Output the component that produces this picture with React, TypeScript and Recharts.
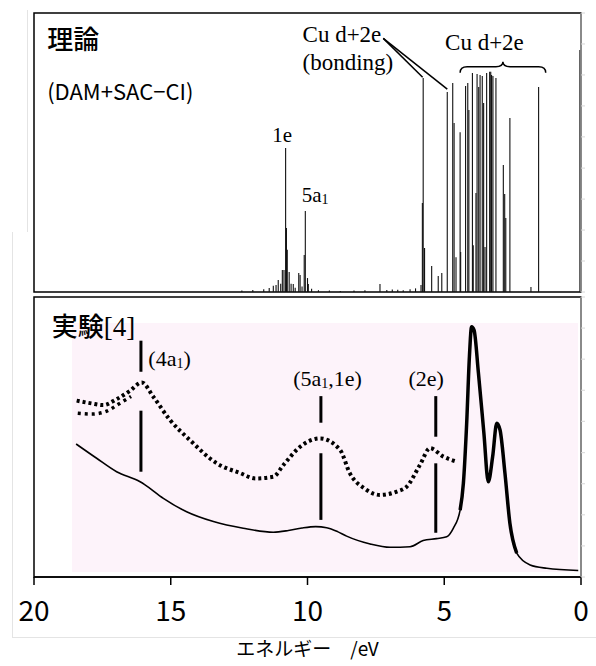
import {
  ComposedChart, Line, XAxis, YAxis, ReferenceLine, ReferenceArea, ReferenceDot, Label,
} from "recharts";

// theory (DAM+SAC-CI): stick energies (eV) and intensities (% of panel height)
const stickE = [
  12.4, 12.0, 11.6, 11.4, 11.25, 11.15, 11.07, 10.98, 10.92, 10.86, 10.8, 10.77, 10.74, 10.67,
  10.6, 10.52, 10.45, 10.32, 10.27, 10.2, 10.12, 10.08, 10.0, 9.97, 9.85, 9.6, 9.2, 8.8, 8.3,
  7.9, 7.35, 7.1, 6.9, 6.7, 6.5, 6.25, 6.05, 5.85, 5.8, 5.77, 5.72, 5.46, 5.22, 5.09, 4.89,
  4.69, 4.64, 4.57, 4.42, 4.4, 4.22, 4.14, 4.1, 3.97, 3.94, 3.84, 3.8, 3.74, 3.69, 3.61, 3.56,
  3.51, 3.45, 3.34, 3.3, 3.27, 3.22, 3.11, 2.84, 2.79, 2.75, 2.6, 1.83, 1.55, 0.04,
];
const stickI = [
  0.5, 0.7, 1.0, 1.4, 2.2, 2.5, 4.3, 3.0, 7.9, 7.9, 51.6, 22.9, 15.1, 7.2,
  3.0, 2.9, 1.5, 6.8, 6.1, 2.0, 13.3, 29.0, 5.0, 2.9, 1.2, 0.6, 0.5, 0.4, 0.5,
  0.6, 2.9, 0.7, 0.9, 0.8, 0.6, 1.0, 1.3, 2.5, 31.9, 76.7, 15.8, 9.3, 5.7, 6.8, 71.7,
  74.9, 60.6, 12.5, 57.3, 14.3, 73.8, 74.9, 65.2, 78.5, 16.8, 35.5, 78.1, 73.5, 77.8, 77.4, 67.7,
  16.1, 78.5, 78.9, 78.9, 77.8, 77.4, 76.7, 45.5, 35.1, 26.5, 62.4, 1.8, 73.5, 86.7,
];

// experiment [4]: solid spectrum
const expE = [
  18.46, 17.71, 16.98, 16.12, 15.94, 15.27, 14.42, 13.44, 12.35, 11.25, 10.7, 10.2, 9.7, 9.3,
  8.9, 8.57, 7.71, 6.98, 6.25, 5.77, 5.28, 4.91, 4.67, 4.42, 4.3, 4.18, 4.08, 4.0, 3.91, 3.75,
  3.55, 3.39, 3.23, 3.08, 2.96, 2.78, 2.6, 2.35, 1.86, 1.25, 0.1,
];
const expI = [
  47.5, 42.4, 37.6, 34.0, 32.9, 28.1, 23.3, 19.8, 17.4, 16.0, 16.6, 17.5, 18.0, 17.6,
  16.2, 14.6, 11.8, 10.6, 10.8, 13.0, 13.7, 14.4, 17.4, 23.9, 33.5, 54.9, 78.7, 89.4, 88.2, 72.8,
  51.3, 34.0, 43.0, 54.9, 52.5, 37.0, 19.2, 8.5, 4.3, 3.1, 2.3,
];

// experiment [4]: dotted (enlarged) spectrum, main row of points
const dotE = [
  18.44, 17.9, 17.47, 16.98, 16.49, 16.06, 15.64, 15.03, 14.3, 13.32, 12.46, 11.9, 11.25,
  10.88, 10.27, 9.54, 8.81, 8.45, 7.9, 7.35, 6.74, 6.37, 5.89, 5.52, 5.03, 4.54,
];
const dotI = [
  63.0, 62.0, 61.4, 63.5, 66.5, 69.5, 64.4, 56.1, 48.9, 40.6, 37.1, 35.2, 35.8,
  40.0, 46.5, 49.5, 45.4, 37.0, 31.5, 29.3, 30.5, 32.3, 40.0, 46.0, 43.0, 41.2,
];
// scattered lower edge of the dotted band (left end)
const dotLowE = [18.4, 17.9, 17.4, 16.9, 16.45];
const dotLowI = [58.5, 58.2, 59.0, 61.8, 64.5];

// assignment markers in the experiment panel
const markE = [16.09, 9.51, 5.31];
const markUpper = [[73.3, 84.4], [55.1, 64.6], [50.1, 64.6]];
const markLower = [[37.6, 59.4], [20.4, 44.2], [15.8, 40.6]];

const xTicks = [20, 15, 10, 5, 0];
const sideTicks = [0, 11.1, 22.2, 33.3, 44.4, 55.6, 66.7, 77.8, 88.9, 100];

const SERIF = "'Liberation Serif', 'Times New Roman', serif";
const GOTHIC = "'Noto Sans CJK JP', 'Noto Sans', sans-serif";

const stickData = stickE.map((e, i) => ({ e, v: stickI[i] }));
const expData = expE.map((e, i) => ({ e, v: expI[i] }));
const peakData = expData.filter((d) => d.e <= 4.45 && d.e >= 2.3);
const dotData = dotE.map((e, i) => ({ e, v: dotI[i] }));
const dotLowData = dotLowE.map((e, i) => ({ e, v: dotLowI[i] }));

function note(x: number, y: number, render: (cx: number, cy: number) => any, key: string) {
  return <ReferenceDot key={key} x={x} y={y} r={0} shape={(p: any) => render(p.cx, p.cy)} />;
}

function serifText(text: any, size = 20, anchor = "start") {
  return (cx: number, cy: number) => (
    <text x={cx} y={cy} fontFamily={SERIF} fontSize={size} textAnchor={anchor} fill="#000">{text}</text>
  );
}

function brace(p: any) {
  const { x, y, width: w, height: h } = p;
  const mid = x + w / 2;
  const my = y + h * 0.45;
  const d = `M${x},${y + h} Q${x},${my} ${x + 7},${my} L${mid - 7},${my} Q${mid},${my} ${mid},${y}`
    + ` Q${mid},${my} ${mid + 7},${my} L${x + w - 7},${my} Q${x + w},${my} ${x + w},${y + h}`;
  return <path d={d} fill="none" stroke="#000" strokeWidth={1.5} />;
}

const sideAxis = (
  <YAxis orientation="right" domain={[0, 100]} ticks={sideTicks} width={6} tickSize={4}
    tickFormatter={() => ""} axisLine={{ stroke: "#d6d6d6" }} tickLine={{ stroke: "#d6d6d6" }} />
);

function TheoryPanel() {
  return (
    <ComposedChart width={596} height={300} data={stickData}
      margin={{ top: 13, right: 9, bottom: 8, left: 34 }}>
      <XAxis type="number" dataKey="e" domain={[0, 20]} reversed hide />
      {sideAxis}
      <Line data={stickData} dataKey="v" stroke="none" dot={false} isAnimationActive={false} />
      <ReferenceArea x1={20} x2={0} y1={0} y2={100} fill="none" stroke="#000" strokeWidth={1.5} />
      {stickData.map((d, i) => (
        <ReferenceLine key={`s${i}`} segment={[{ x: d.e, y: 0 }, { x: d.e, y: d.v }]}
          stroke="#111" strokeWidth={1.1} />
      ))}
      <ReferenceLine segment={[{ x: 7.23, y: 90.9 }, { x: 5.79, y: 77.0 }]} stroke="#000" strokeWidth={1.5} />
      <ReferenceLine segment={[{ x: 7.23, y: 90.9 }, { x: 4.89, y: 72.7 }]} stroke="#000" strokeWidth={1.5} />
      <ReferenceArea x1={4.42} x2={1.29} y1={78.6} y2={82.5} shape={brace} />
      {note(19.52, 87.1, (cx, cy) => (
        <text x={cx} y={cy} fontFamily={GOTHIC} fontSize={26} fontWeight={500} fill="#000">理論</text>
      ), "t1")}
      {note(19.52, 68.8, (cx, cy) => (
        <text x={cx} y={cy} fontFamily={GOTHIC} fontSize={22} fill="#000">(DAM+SAC−CI)</text>
      ), "t2")}
      {note(10.93, 53.8, serifText("1e", 21, "middle"), "l1")}
      {note(10.21, 32.3, serifText(<>5a<tspan fontSize={14} dy={2}>1</tspan></>, 21), "l2")}
      {note(10.18, 89.6, serifText("Cu d+2e", 23), "l3")}
      {note(10.18, 79.6, serifText("(bonding)", 23), "l4")}
      {note(4.97, 86.7, serifText("Cu d+2e", 23), "l5")}
    </ComposedChart>
  );
}

function ExperimentPanel() {
  return (
    <ComposedChart width={596} height={379} margin={{ top: 10, right: 9, bottom: 0, left: 34 }}>
      <XAxis type="number" dataKey="e" domain={[0, 20]} reversed ticks={xTicks} height={89}
        tickSize={8} tickMargin={16} axisLine={{ stroke: "#000", strokeWidth: 1.5 }}
        tickLine={{ stroke: "#000", strokeWidth: 1.5 }}
        tick={{ fill: "#000", fontSize: 28, fontFamily: GOTHIC }}>
        <Label value="エネルギー　/eV" position="insideBottom" offset={10}
          style={{ fontSize: 19, fontFamily: GOTHIC, fill: "#000" }} />
      </XAxis>
      {sideAxis}
      <ReferenceArea x1={18.61} x2={0.11} y1={1.8} y2={90.7} fill="#fdf3fa" fillOpacity={1} stroke="none" />
      <ReferenceArea x1={20} x2={0} y1={0} y2={100} fill="none" stroke="#000" strokeWidth={1.5} />
      <Line data={expData} dataKey="v" type="monotone" stroke="#000" strokeWidth={1.6}
        dot={false} isAnimationActive={false} />
      <Line data={peakData} dataKey="v" type="monotone" stroke="#000" strokeWidth={3.5}
        dot={false} isAnimationActive={false} />
      <Line data={dotData} dataKey="v" type="monotone" stroke="#000" strokeWidth={4}
        strokeDasharray="3 3" dot={false} isAnimationActive={false} />
      <Line data={dotLowData} dataKey="v" type="monotone" stroke="#000" strokeWidth={3.5}
        strokeDasharray="3 4" dot={false} isAnimationActive={false} />
      {markE.map((e, i) => (
        <ReferenceLine key={`mu${i}`} segment={[{ x: e, y: markUpper[i][0] }, { x: e, y: markUpper[i][1] }]}
          stroke="#000" strokeWidth={3} />
      ))}
      {markE.map((e, i) => (
        <ReferenceLine key={`ml${i}`} segment={[{ x: e, y: markLower[i][0] }, { x: e, y: markLower[i][1] }]}
          stroke="#000" strokeWidth={3} />
      ))}
      {note(19.35, 86.1, (cx, cy) => (
        <text x={cx} y={cy} fill="#000">
          <tspan fontFamily={GOTHIC} fontSize={26} fontWeight={500}>実験</tspan>
          <tspan fontFamily={SERIF} fontSize={27}>[4]</tspan>
        </text>
      ), "b1")}
      {note(15.82, 75.4, serifText(<>(4a<tspan fontSize={14} dy={2}>1</tspan><tspan dy={-2}>)</tspan></>, 22), "b2")}
      {note(10.52, 68.2, serifText(<>(5a<tspan fontSize={14} dy={2}>1</tspan><tspan dy={-2}>,1e)</tspan></>, 22), "b3")}
      {note(6.31, 68.2, serifText("(2e)", 22), "b4")}
    </ComposedChart>
  );
}

export default function App() {
  return (
    <div style={{ position: "absolute", left: 0, top: 0, width: 596, height: 666, background: "#fff" }}>
      <div style={{ position: "absolute", left: 27, top: 10, width: 10, height: 222,
        borderLeft: "1px solid #e4e4e4" }} />
      <div style={{ position: "absolute", left: 12, top: 232, width: 584, height: 405,
        borderLeft: "1px solid #e4e4e4", borderBottom: "1px solid #e4e4e4" }} />
      <div style={{ position: "absolute", left: 0, top: 0 }}>
        <TheoryPanel />
      </div>
      <div style={{ position: "absolute", left: 0, top: 287 }}>
        <ExperimentPanel />
      </div>
    </div>
  );
}
